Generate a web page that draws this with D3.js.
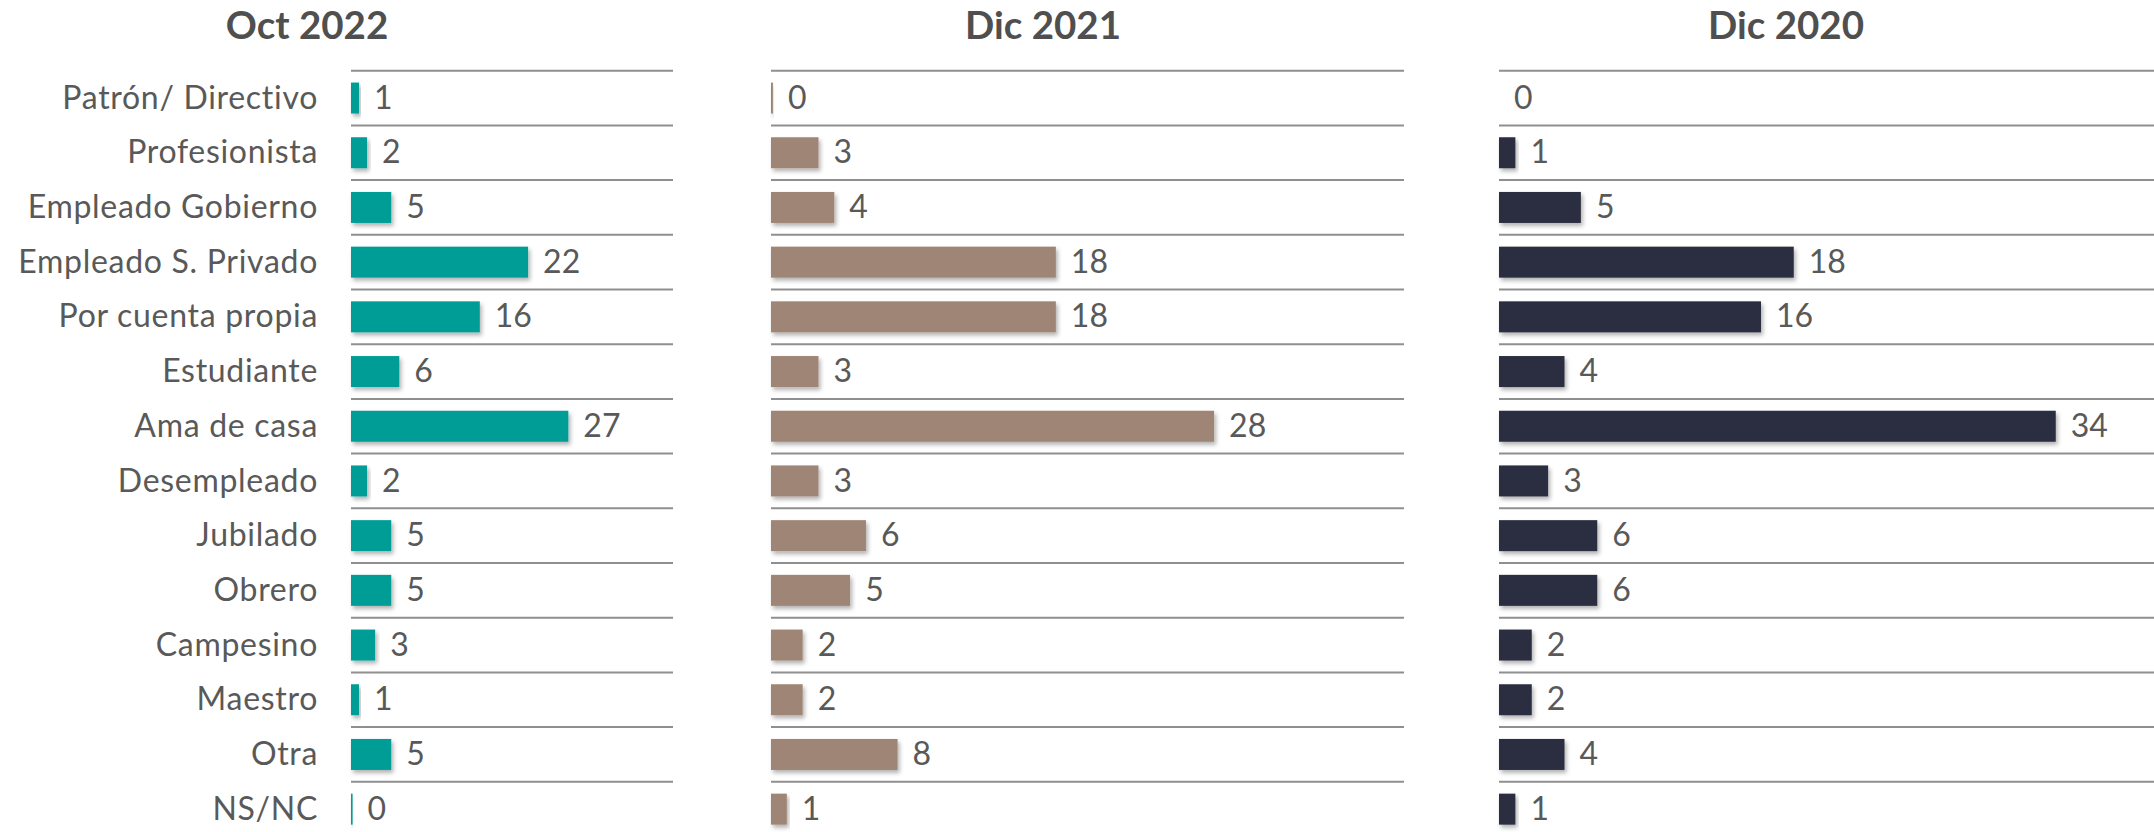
<!DOCTYPE html>
<html>
<head>
<meta charset="utf-8">
<script src="https://cdn.jsdelivr.net/npm/d3@7"></script>
<style>
  html, body { margin: 0; padding: 0; background: #ffffff; }
  svg { display: block; }
</style>
</head>
<body>
<svg id="chart" width="2154" height="832"></svg>
<script>
const categories = [
  "Patrón/ Directivo", "Profesionista", "Empleado Gobierno", "Empleado S. Privado",
  "Por cuenta propia", "Estudiante", "Ama de casa", "Desempleado", "Jubilado",
  "Obrero", "Campesino", "Maestro", "Otra", "NS/NC"
];
const panelTitles = ["Oct 2022", "Dic 2021", "Dic 2020"];
const valuesOct2022 = [1, 2, 5, 22, 16, 6, 27, 2, 5, 5, 3, 1, 5, 0.2];
const valuesDic2021 = [0.12, 3, 4, 18, 18, 3, 28, 3, 6, 5, 2, 2, 8, 1];
const valuesDic2020 = [0, 1, 5, 18, 16, 4, 34, 3, 6, 6, 2, 2, 4, 1];
const xMax = 40;

const panels = [
  { title: panelTitles[0], values: valuesOct2022, color: "#009d96", x0: 351, x1: 673, titleX: 307 },
  { title: panelTitles[1], values: valuesDic2021, color: "#9f8575", x0: 771, x1: 1404, titleX: 1043 },
  { title: panelTitles[2], values: valuesDic2020, color: "#2b2d3f", x0: 1499, x1: 2154, titleX: 1786 }
];

const svg = d3.select("#chart");
const FONT = "Lato, 'Open Sans', sans-serif";
const textColor = "#595959";

const defs = svg.append("defs");
const f = defs.append("filter").attr("id", "shadow")
  .attr("x", "-10%").attr("y", "-30%").attr("width", "130%").attr("height", "180%");
f.append("feDropShadow").attr("dx", 2).attr("dy", 3).attr("stdDeviation", 2)
  .attr("flood-color", "#000").attr("flood-opacity", 0.3);

const top0 = 70.7, step = 54.7;
const y = d3.scaleBand().domain(categories)
  .range([top0, top0 + step * categories.length]).padding(0);
const barH = 31;

panels.forEach((p, pi) => {
  const x = d3.scaleLinear().domain([0, xMax]).range([p.x0, p.x1]);
  const g = svg.append("g");

  // title
  g.append("text")
    .attr("x", p.titleX).attr("y", 39)
    .attr("text-anchor", "middle")
    .attr("font-family", FONT).attr("font-weight", 700)
    .attr("font-size", 38.5).attr("fill", "#4f4f4f")
    .text(p.title);

  // gridlines (top of each row)
  g.selectAll("line.grid").data(categories).join("line")
    .attr("class", "grid")
    .attr("x1", x(0)).attr("x2", x(xMax))
    .attr("y1", d => y(d)).attr("y2", d => y(d))
    .attr("stroke", "#8f8f8f").attr("stroke-width", 2);

  const data = categories.map((c, i) => ({ c, v: p.values[i] }));

  // bars
  g.selectAll("rect.bar").data(data.filter(d => d.v > 0)).join("rect")
    .attr("class", "bar")
    .attr("x", x(0))
    .attr("y", d => y(d.c) + y.bandwidth() / 2 - barH / 2)
    .attr("width", d => Math.max(0, x(d.v) - x(0)))
    .attr("height", barH)
    .attr("fill", p.color)
    .attr("filter", "url(#shadow)");

  // value labels
  g.selectAll("text.val").data(data).join("text")
    .attr("class", "val")
    .attr("x", d => x(d.v) + 15)
    .attr("y", d => y(d.c) + y.bandwidth() / 2)
    .attr("dy", "0.33em")
    .attr("font-family", FONT).attr("font-size", 32)
    .attr("fill", textColor)
    .text(d => d3.format(".0f")(d.v));

  // category labels (first panel only)
  if (pi === 0) {
    g.selectAll("text.cat").data(categories).join("text")
      .attr("class", "cat")
      .attr("x", 318)
      .attr("y", d => y(d) + y.bandwidth() / 2)
      .attr("dy", "0.33em")
      .attr("text-anchor", "end")
      .attr("font-family", FONT).attr("font-size", 32)
      .attr("letter-spacing", 0.7)
      .attr("fill", textColor)
      .text(d => d);
  }
});
</script>
</body>
</html>
